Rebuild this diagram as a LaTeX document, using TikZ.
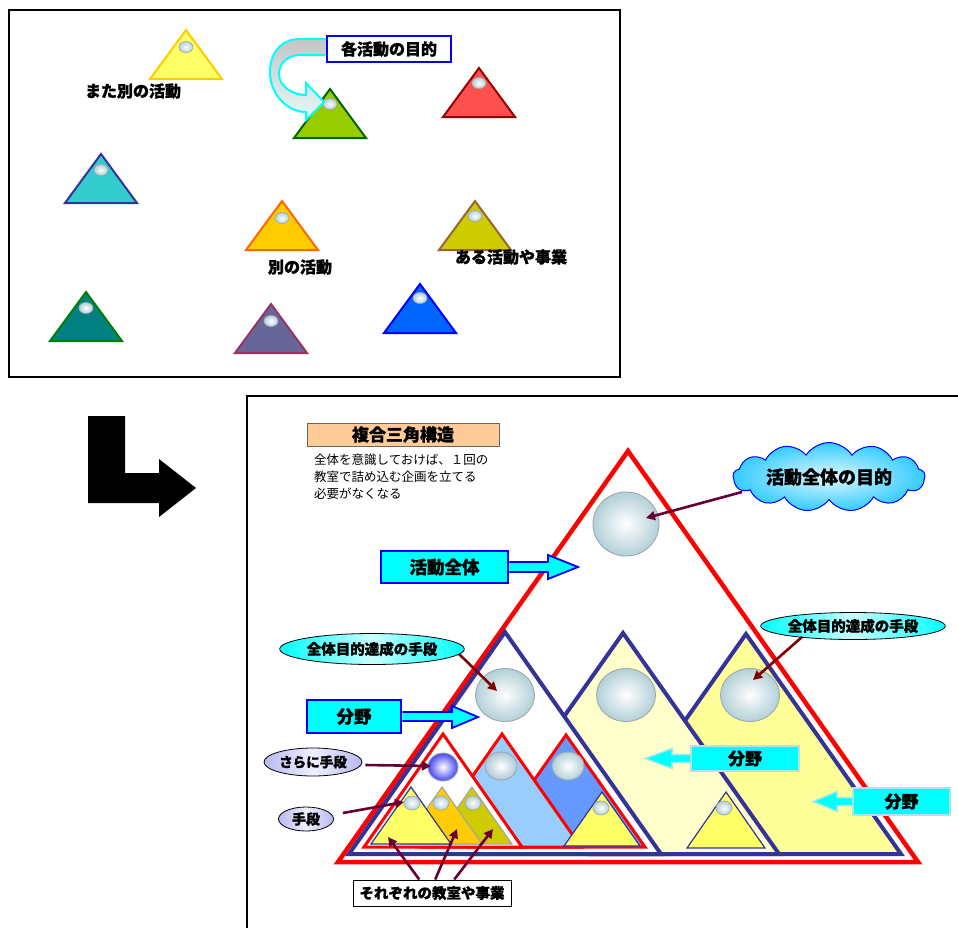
\documentclass[tikz,border=0pt]{standalone}
\usepackage{fontspec}
\setmainfont{Noto Sans CJK JP}[BoldFeatures={FakeBold=1.2}]
\usetikzlibrary{arrows.meta,shapes.geometric,shapes.symbols,calc}
\definecolor{navy}{HTML}{333399}
\definecolor{lyel}{HTML}{FFFF66}
\definecolor{cyanb}{HTML}{00FFFF}
\definecolor{blueb}{HTML}{0000FF}
\definecolor{maroonA}{HTML}{660033}
\definecolor{darkredA}{HTML}{800000}
\definecolor{peach}{HTML}{FFCC99}
\definecolor{paleY}{HTML}{FFFFCC}
\definecolor{yelB}{HTML}{FFFF99}
\definecolor{lblue}{HTML}{99CCFF}
\definecolor{mblue}{HTML}{6699FF}
\definecolor{orngY}{HTML}{FFCC00}
\definecolor{oliveY}{HTML}{CCCC00}
\definecolor{ballc}{HTML}{B2D0D8}
\definecolor{ballb}{HTML}{A0A8AC}
\definecolor{redR}{HTML}{FF0000}
\definecolor{paleC}{HTML}{A8E8E8}
\definecolor{lav}{HTML}{B8B8F0}
\definecolor{cloudc}{HTML}{33CCFF}
\tikzset{
  lbl/.style={inner sep=0pt, font=\fontsize{16}{16}\selectfont\bfseries},
  ball/.style={draw=ballb, line width=0.9pt, inner color=white, outer color=ballc},
  bigtri/.style={line width=4pt, draw=navy, line join=miter},
  redtri/.style={line width=3pt, draw=redR, line join=miter},
  ytri/.style={line width=1.2pt, line join=miter},
  cyanbox/.style={draw=blueb, line width=2.5pt, fill=cyanb, inner sep=0pt, font=\fontsize{17.5}{17.5}\selectfont\bfseries},
  palebox/.style={draw=paleC, line width=2pt, fill=cyanb, inner sep=0pt, font=\fontsize{17}{17}\selectfont\bfseries},
  ptr/.style={line width=2.6pt, draw=maroonA, -{Triangle[length=9pt,width=9pt]}},
  ptrR/.style={line width=2.6pt, draw=darkredA, -{Triangle[length=9pt,width=9pt]}},
}
\newcommand{\stri}[5]{%
  \draw[line width=2pt, line join=miter, fill=#3, draw=#4] (#1,#2) -- ++(-36,49) -- ++(72,0) -- cycle;
  \path[ball, line width=0.7pt] (#1,#2+#5) ellipse [x radius=7pt, y radius=5.5pt];}
\begin{document}
\begin{tikzpicture}[x=1pt,y=-1pt]
\useasboundingbox (0,0) rectangle (958,927);
% ---------- top frame ----------
\draw[line width=2pt] (9,10) rectangle (620,377);
% small triangles
\stri{186}{30}{lyel}{orngY}{17}
\stri{330}{89}{{rgb,255:red,153;green,204;blue,0}}{{rgb,255:red,0;green,102;blue,0}}{15}
\stri{479}{68}{{rgb,255:red,255;green,80;blue,80}}{{rgb,255:red,153;green,0;blue,0}}{15}
\stri{101}{154}{{rgb,255:red,51;green,204;blue,204}}{navy}{16}
\stri{282}{201}{orngY}{{rgb,255:red,255;green,102;blue,0}}{17}
\stri{475}{201}{oliveY}{{rgb,255:red,153;green,102;blue,51}}{15}
\stri{86}{292}{{rgb,255:red,0;green,128;blue,128}}{{rgb,255:red,0;green,128;blue,0}}{16}
\stri{271}{304}{{rgb,255:red,102;green,102;blue,153}}{{rgb,255:red,153;green,51;blue,102}}{17}
\stri{420}{284}{{rgb,255:red,0;green,102;blue,255}}{blueb}{14}
\node[lbl] (l1) at (133,91) {また別の活動};
\node[lbl] (l2) at (300,267) {別の活動};
\node[lbl] (l3) at (511,257) {ある活動や事業};
% curved arrow
\path[draw=cyanb, line width=2pt, line join=miter, top color=gray!45, bottom color={rgb,255:red,230;green,250;blue,250}]
  (327,39) -- (300,39) .. controls (281,39) and (270,53) .. (270,72)
  .. controls (270,94) and (287,112) .. (306,112) -- (306,120) -- (324,102) -- (306,83) -- (306,95)
  .. controls (292,95) and (279,86) .. (279,74) .. controls (279,63) and (288,55) .. (300,55) -- (327,55) -- cycle;
\node[draw=blueb, line width=2.5pt, fill=white, minimum width=124pt, minimum height=26pt, inner sep=0pt,
  font=\fontsize{16}{16}\selectfont\bfseries] (goal) at (389,49) {各活動の目的};
% ---------- L arrow ----------
\fill (88,416) -- (125,416) -- (125,473) -- (159,473) -- (159,459) -- (196,488) -- (159,517) -- (159,503) -- (88,503) -- cycle;
% ---------- bottom frame ----------
\draw[line width=2pt] (247,930) -- (247,396) -- (962,396);
% big red triangle
\draw[line width=4.5pt, draw=redR, fill=white, line join=miter] (628,451) -- (338,862) -- (918,862) -- cycle;
% navy triangles
\draw[bigtri, fill=yelB] (746,634) -- (591,854) -- (901,854) -- cycle;
\draw[bigtri, fill=paleY] (623,633) -- (467,854) -- (779,854) -- cycle;
\draw[bigtri, fill=white] (505,632) -- (349,854) -- (661,854) -- cycle;
\path[ball] (626,524) ellipse [x radius=33pt, y radius=32pt];
\path[ball] (505,695) ellipse [x radius=29.5pt, y radius=26.5pt];
\path[ball] (626,695) ellipse [x radius=29.5pt, y radius=26.5pt];
\path[ball] (750,695) ellipse [x radius=29.5pt, y radius=26.5pt];
% yellow in middle
\draw[ytri, draw=navy, fill=lyel] (726,792) -- (687,848) -- (765,848) -- cycle;
\path[ball, line width=0.7pt] (724,808) ellipse [x radius=8pt, y radius=7pt];
% red inner triangles
\draw[redtri, fill=mblue] (566,735) -- (487,847) -- (645,847) -- cycle;
\draw[redtri, fill=lblue] (502,734) -- (423,847) -- (581,847) -- cycle;
\draw[ytri, draw=navy, fill=lyel] (602,792) -- (564,846) -- (640,846) -- cycle;
\path[ball, line width=0.7pt] (601,808) ellipse [x radius=8pt, y radius=7pt];
\draw[redtri, fill=white] (443,734) -- (364,847) -- (522,847) -- cycle;
% yellows in A
\draw[ytri, draw=gray!70, fill=oliveY] (472,787) -- (432,844) -- (512,844) -- cycle;
\draw[ytri, draw=gray!70, fill=orngY] (442,787) -- (402,844) -- (482,844) -- cycle;
\draw[ytri, draw=navy, fill=lyel] (411,787) -- (371,844) -- (451,844) -- cycle;
\path[ball, line width=0.7pt] (412,803) ellipse [x radius=8pt, y radius=7pt];
\path[ball, line width=0.7pt] (441,803) ellipse [x radius=8pt, y radius=7pt];
\path[ball, line width=0.7pt] (473,803) ellipse [x radius=8pt, y radius=7pt];
% spheres on red triangles
\path[draw=ballb, line width=0.9pt, inner color=white, outer color={rgb,255:red,70;green,70;blue,240}] (443,767) ellipse [x radius=15pt, y radius=14pt];
\path[ball, outer color={rgb,255:red,175;green,200;blue,215}] (501,766) ellipse [x radius=16pt, y radius=14pt];
\path[ball] (568,766) ellipse [x radius=16pt, y radius=14pt];
% ---------- labels ----------
\node[draw=gray!80!black, line width=1pt, fill=peach, minimum width=192pt, minimum height=23pt, inner sep=0pt,
  font=\fontsize{17}{17}\selectfont\bfseries] (ttl) at (403,434.5) {複合三角構造};
\node[anchor=north west, align=left, inner sep=0pt, font=\fontsize{12.5}{17}\selectfont] (desc) at (314,454)
  {全体を意識しておけば、１回の\\教室で詰め込む企画を立てる\\必要がなくなる};
% 活動全体 box + arrow
\node[cyanbox, minimum width=127pt, minimum height=32pt] (whole) at (444.5,567) {活動全体};
\draw[draw=blueb, line width=1.8pt, fill=cyanb, line join=miter] (whole.east) ++(0,-5) -- (548,562) -- (548,555) -- (578,567) -- (548,579) -- (548,572) -- ($(whole.east)+(0,5)$);
% 分野 left
\node[cyanbox, minimum width=94pt, minimum height=33pt] (fL) at (354,716.5) {分野};
\draw[draw=blueb, line width=1.8pt, fill=cyanb, line join=miter] (fL.east) ++(0,-4.5) -- (452,712) -- (452,706) -- (478,717) -- (452,728) -- (452,721) -- ($(fL.east)+(0,4.5)$);
% 分野 right boxes
\node[palebox, minimum width=108pt, minimum height=25pt] (fR1) at (745,758.5) {分野};
\draw[draw=paleC, line width=1.5pt, fill=cyanb, line join=miter] (fR1.west) ++(0,-4) -- (672,754.5) -- (672,748.5) -- (645,758.5) -- (672,768.5) -- (672,762.5) -- ($(fR1.west)+(0,4)$);
\node[palebox, minimum width=97pt, minimum height=27pt] (fR2) at (901.5,801.5) {分野};
\draw[draw=paleC, line width=1.5pt, fill=cyanb, line join=miter] (fR2.west) ++(0,-4) -- (837,797.5) -- (837,791.5) -- (813,801.5) -- (837,811.5) -- (837,805.5) -- ($(fR2.west)+(0,4)$);
% cloud
\node[cloud, cloud puffs=13, cloud puff arc=115, aspect=3.8, draw=blueb, line width=1pt,
  inner color={rgb,255:red,225;green,248;blue,255}, outer color=cloudc,
  minimum width=192pt, minimum height=48pt, inner sep=0pt, font=\fontsize{18}{18}\selectfont\bfseries] (cl) at (829,477) {活動全体の目的};
% ellipses
\node[ellipse, draw=black, line width=0.8pt, left color=cyanb, right color=cyanb, middle color={rgb,255:red,200;green,255;blue,255},
  minimum width=168pt, minimum height=27pt, inner sep=0pt, font=\fontsize{14.5}{14.5}\selectfont\bfseries] (eR) at (853,626) {全体目的達成の手段};
\node[ellipse, draw=black, line width=0.8pt, left color=cyanb, right color=cyanb, middle color={rgb,255:red,200;green,255;blue,255},
  minimum width=179pt, minimum height=31pt, inner sep=0pt, font=\fontsize{14.5}{14.5}\selectfont\bfseries] (eL) at (372,649) {全体目的達成の手段};
\node[ellipse, draw=black, line width=0.8pt, left color=lav, right color=lav, middle color={rgb,255:red,240;green,240;blue,255},
  minimum width=98pt, minimum height=28pt, inner sep=0pt, font=\fontsize{13.5}{13.5}\selectfont\bfseries] (more) at (313,762) {さらに手段};
\node[ellipse, draw=black, line width=0.8pt, left color=lav, right color=lav, middle color={rgb,255:red,240;green,240;blue,255},
  minimum width=55pt, minimum height=24pt, inner sep=0pt, font=\fontsize{14}{14}\selectfont\bfseries] (means) at (306,819) {手段};
\node[draw=black, line width=1pt, fill=white, minimum width=158pt, minimum height=26pt, inner sep=0pt,
  font=\fontsize{14.5}{14.5}\selectfont\bfseries] (each) at (432,893) {それぞれの教室や事業};
% targets
\coordinate (tTop) at (646,518);
\coordinate (tR) at (753,680);
\coordinate (tL) at (497,691);
\coordinate (tMore) at (431,766);
\coordinate (tMeans) at (404,802);
\coordinate (tE1) at (388,837);
\coordinate (tE2) at (457,829);
\coordinate (tE3) at (493,829);
% pointers
\draw[ptr] ($(cl.center)+(-87,15)$) -- (tTop);
\draw[ptrR] ($(eR.center)+(-51,11)$) -- (tR);
\draw[ptrR] ($(eL.center)+(87,5)$) -- (tL);
\draw[ptr] ($(more.east)+(3,3)$) -- (tMore);
\draw[ptr] ($(means.east)+(9,-6)$) -- (tMeans);
\draw[ptr] ($(each.north west)!0.42!(each.north east)$) -- (tE1);
\draw[ptr] ($(each.north west)!0.52!(each.north east)$) -- (tE2);
\draw[ptr] ($(each.north west)!0.64!(each.north east)$) -- (tE3);
\end{tikzpicture}
\end{document}
